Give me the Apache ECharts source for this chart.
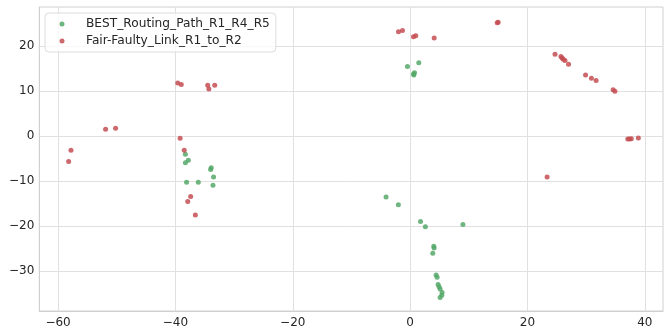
<!DOCTYPE html>
<html>
<head>
<meta charset="utf-8">
<script src="https://cdn.jsdelivr.net/npm/echarts@6/dist/echarts.min.js"></script>
<style>html,body{margin:0;padding:0;background:#fff}#c{width:664px;height:329px}</style>
</head>
<body>
<div id="c"></div>
<script>
const seriesNames = ['BEST_Routing_Path_R1_R4_R5', 'Fair-Faulty_Link_R1_to_R2'];
const bestPoints = [
  [-38.3, -4.0], [-37.8, -5.3], [-38.3, -5.9], [-33.9, -7.0], [-34.0, -7.4],
  [-33.5, -9.05], [-38.1, -10.2], [-36.1, -10.2], [-33.6, -10.9],
  [-0.45, 15.5], [1.48, 16.3], [0.58, 13.8], [0.75, 14.1], [0.63, 13.6],
  [-4.1, -13.5], [-2.0, -15.2], [1.77, -18.9], [2.6, -20.1], [9.0, -19.6],
  [4.03, -24.4], [4.09, -24.8], [3.86, -26.0], [4.43, -30.8], [4.6, -31.3],
  [4.77, -32.9], [4.94, -33.4], [5.11, -33.9], [5.45, -34.7], [5.40, -35.3], [5.11, -35.8]
];
const faultyPoints = [
  [-58.2, -5.6], [-57.8, -3.1], [-51.9, 1.55], [-50.2, 1.77],
  [-39.6, 11.8], [-39.0, 11.5], [-34.5, 11.3], [-34.3, 10.5], [-33.3, 11.3],
  [-39.2, -0.44], [-38.5, -3.1], [-37.4, -13.4], [-37.9, -14.5], [-36.6, -17.5],
  [-1.98, 23.2], [-1.3, 23.5], [0.57, 22.1], [0.97, 22.3], [4.1, 21.8],
  [15.0, 25.3], [14.85, 25.2], [23.35, -9.05],
  [24.7, 18.2], [25.7, 17.7], [25.9, 17.4], [26.1, 17.1], [26.4, 16.8], [27.0, 16.0],
  [29.9, 13.6], [30.9, 12.9], [31.7, 12.4], [34.6, 10.3], [34.9, 10.0],
  [37.1, -0.6], [37.4, -0.6], [37.7, -0.55], [38.9, -0.37]
];
const xTicks = [-60, -40, -20, 0, 20, 40];
const yTicks = [-30, -20, -10, 0, 10, 20];

const fmt = v => String(v).replace('-', '\u2212');
const font = 'DejaVu Sans';
const chart = echarts.init(document.getElementById('c'), null, {renderer: 'canvas'});
const axisCommon = {
  axisLine: {show: true, onZero: false, lineStyle: {color: '#d0d0d0', width: 1}},
  axisTick: {show: false},
  splitLine: {show: true, lineStyle: {color: '#e0e0e0', width: 1}},
  axisLabel: {color: '#262626', fontFamily: font, fontSize: 12, margin: 6, formatter: fmt}
};
chart.setOption({
  animation: false,
  backgroundColor: '#ffffff',
  grid: {left: 39.3, right: 1, top: 7, bottom: 16.3, show: true, borderColor: '#d0d0d0', borderWidth: 1},
  xAxis: Object.assign({}, axisCommon, {
    type: 'value', min: -63.2, max: 43.1,
    axisLabel: Object.assign({}, axisCommon.axisLabel, {customValues: xTicks, margin: 6}),
    axisTick: {show: false, customValues: xTicks}
  }),
  yAxis: Object.assign({}, axisCommon, {
    type: 'value', min: -38.8, max: 28.7,
    axisLabel: Object.assign({}, axisCommon.axisLabel, {customValues: yTicks, margin: 5}),
    axisTick: {show: false, customValues: yTicks}
  }),
  legend: {
    orient: 'vertical', left: 45, top: 13,
    padding: [4, 6, 4, 14.5],
    itemWidth: 5, itemHeight: 5, itemGap: 3,
    icon: 'circle',
    backgroundColor: 'rgba(255,255,255,0.8)',
    borderColor: '#dcdcdc', borderWidth: 1, borderRadius: 4,
    textStyle: {fontFamily: font, fontSize: 12.2, color: '#262626', lineHeight: 14, padding: [0, 0, 0, 16.5]},
    data: seriesNames
  },
  series: [
    {name: seriesNames[0], type: 'scatter', data: bestPoints, symbolSize: 5,
     itemStyle: {color: '#55a868', opacity: 0.85}},
    {name: seriesNames[1], type: 'scatter', data: faultyPoints, symbolSize: 5,
     itemStyle: {color: '#c44e52', opacity: 0.85}}
  ]
});
</script>
</body>
</html>
